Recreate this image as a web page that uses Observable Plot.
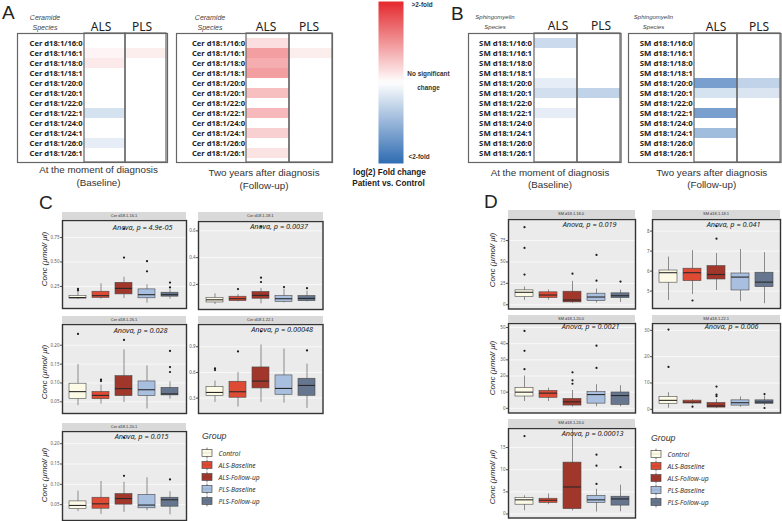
<!DOCTYPE html>
<html><head><meta charset="utf-8">
<script src="https://cdn.jsdelivr.net/npm/d3@7"></script>
<script src="https://cdn.jsdelivr.net/npm/@observablehq/plot@0.6"></script>
<style>
html,body{margin:0;padding:0;background:#fff;}
#fig{position:relative;width:782px;height:521px;overflow:hidden;font-family:"Liberation Sans",Arial,Helvetica,sans-serif;color:#222;background:#fff;}
.t{position:absolute;white-space:nowrap;line-height:1;}
.c{transform:translate(-50%,-50%);text-align:center;}
.strip{position:absolute;background:#d9d9d9;font-size:4px;color:#333;text-align:center;line-height:7px;overflow:hidden;}
.ylab{position:absolute;font-style:italic;font-size:8px;color:#222;transform:translate(-50%,-50%) rotate(-90deg);white-space:nowrap;line-height:1;}
#fig svg{position:absolute;overflow:visible;}
</style></head><body><div id="fig"></div>
<script>
// ---------- data ----------
const groups = ["Control","ALS-Baseline","ALS-Follow-up","PLS-Baseline","PLS-Follow-up"];
const groupColors = ["#fdfae6","#de4a34","#a1362a","#a8bfdf","#66768f"];

const cerSpecies = ["Cer d18:1/16:0","Cer d18:1/16:1","Cer d18:1/18:0","Cer d18:1/18:1","Cer d18:1/20:0","Cer d18:1/20:1","Cer d18:1/22:0","Cer d18:1/22:1","Cer d18:1/24:0","Cer d18:1/24:1","Cer d18:1/26:0","Cer d18:1/26:1"];
const smSpecies = ["SM d18:1/16:0","SM d18:1/16:1","SM d18:1/18:0","SM d18:1/18:1","SM d18:1/20:0","SM d18:1/20:1","SM d18:1/22:0","SM d18:1/22:1","SM d18:1/24:0","SM d18:1/24:1","SM d18:1/26:0","SM d18:1/26:1"];
const heatCols = ["ALS","PLS"];

// log2 fold change (scaled: 1 = >2-fold up, -1 = <2-fold down)
const cerBaseALS   = [0, 0.05, 0.10, 0, 0, 0, 0, -0.20, 0, 0, -0.12, 0];
const cerBasePLS   = [0, 0.08, 0, 0, 0, 0, 0, 0, 0, 0, 0, 0];
const cerFollowALS = [0.15, 0.45, 0.38, 0.45, 0, 0.30, 0, 0.33, 0, 0.22, 0, 0.13];
const cerFollowPLS = [0, 0.08, 0, 0, 0, 0, 0, 0, 0, 0, 0, 0];
const smBaseALS    = [-0.25, 0, 0, 0, -0.12, -0.22, 0, -0.12, 0, 0, 0, 0];
const smBasePLS    = [0, 0, 0, 0, 0, -0.30, 0, 0, 0, 0, 0, 0];
const smFollowALS  = [0, 0, 0, 0, -0.65, -0.20, 0, -0.65, 0, -0.45, 0, 0];
const smFollowPLS  = [0, 0, 0, 0, -0.30, -0.18, 0, 0, 0, 0, 0, 0];

// box summaries per group: [lower whisker, q1, median, q3, upper whisker]
const cer16_1 = [[0.116,0.126,0.137,0.153,0.20],[0.12,0.133,0.156,0.196,0.277],[0.126,0.169,0.23,0.287,0.344],[0.08,0.129,0.166,0.22,0.267],[0.12,0.146,0.166,0.186,0.216]];
const cer16_1Out = [[0,0.21],[0,0.225],[2,0.545],[2,0.84],[3,0.508],[3,0.404],[4,0.24],[4,0.29]];
const cer18_1 = [[0.05,0.065,0.085,0.10,0.13],[0.07,0.075,0.093,0.108,0.125],[0.055,0.093,0.118,0.143,0.17],[0.062,0.07,0.093,0.113,0.163],[0.07,0.075,0.095,0.113,0.15]];
const cer18_1Out = [[1,0.165],[2,0.218],[2,0.25],[2,0.63],[3,0.18],[4,0.172]];
const cer26_1 = [[0.04,0.057,0.077,0.098,0.149],[0.044,0.057,0.067,0.076,0.094],[0.048,0.065,0.085,0.118,0.188],[0.031,0.065,0.082,0.104,0.145],[0.057,0.067,0.071,0.087,0.103]];
const cer26_1Out = [[0,0.23],[1,0.105],[1,0.109],[2,0.214],[4,0.129],[4,0.142],[4,0.185]];
const cer22_1 = [[0.25,0.323,0.366,0.429,0.499],[0.195,0.304,0.374,0.491,0.60],[0.25,0.413,0.499,0.658,0.92],[0.242,0.339,0.413,0.565,0.873],[0.18,0.327,0.448,0.526,0.697]];
const cer22_1Out = [[0,0.627],[0,0.647],[1,0.845],[2,1.08],[4,0.857]];
const cer20_1 = [[0.033,0.039,0.048,0.058,0.083],[0.026,0.04,0.052,0.067,0.107],[0.031,0.05,0.065,0.076,0.105],[0.035,0.041,0.049,0.074,0.116],[0.025,0.045,0.062,0.067,0.082]];
const cer20_1Out = [[2,0.121],[2,0.215],[4,0.112]];

const sm18_0 = [[5.1,9.0,14.5,16.8,20.7],[5.5,7.8,11.3,14.5,17.2],[1.6,2.7,5.5,15.2,27.3],[2.0,4.3,9.0,12.9,18.4],[2.7,7.8,10.5,13.3,17.2]];
const sm18_0Out = [[0,35.2],[0,66.4],[0,90.6],[2,36.3],[3,28.1],[3,58.2],[4,27]];
const sm18_1 = [[4.53,5.42,5.92,6.03,6.7],[4.83,5.5,5.92,6.12,7.03],[5.03,5.58,5.83,6.25,6.88],[4.47,5.03,5.7,5.88,7.08],[4.37,5.2,5.45,5.92,6.92]];
const sm18_1Out = [[1,4.53],[2,7.62],[2,8.25]];
const sm20_0 = [[4.2,7.3,10,12.7,20],[4.2,6.5,9.4,10.8,12.5],[0.8,1.7,4,5.8,11],[1,2.9,8.5,10,14.6],[1,2.1,7.9,9.8,14]];
const sm20_0Out = [[0,24.2],[0,35.6],[0,47.9],[2,15.2],[2,17.3],[2,22.3],[3,25],[3,38.75]];
const sm22_1 = [[0.4,2.1,3.4,4.7,6.3],[1.8,2.2,2.75,3.3,3.7],[0.26,0.65,1.3,2.4,3.7],[0.8,1.4,2.5,3.4,4.7],[1.3,2.1,2.75,3.4,5.0]];
const sm22_1Out = [[0,16.1],[0,30.3],[1,1.0],[2,5.0],[2,5.6],[2,8.65],[4,5.8],[4,0.5]];
const sm24_0 = [[0.75,2.1,3.2,3.6,4.1],[2.1,2.5,3.1,3.45,4.5],[0.7,1.1,6.1,11.6,19.1],[0.45,2.5,3.2,4.1,5.6],[0.5,1.9,3.4,3.9,6.5]];
const sm24_0Out = [[0,17.6],[3,6.8],[3,10.9],[3,13.4],[4,10.6]];

const ticksC1 = [0.25,0.5,0.75], ticksC2 = [0.2,0.4,0.6], ticksC3 = [0.05,0.1,0.15,0.2], ticksC4 = [0.3,0.6,0.9], ticksC5 = [0.05,0.1,0.15,0.2];
const ticksD1 = [0,25,50,75], ticksD2 = [5,6,7,8], ticksD3 = [0,10,20,30,40,50], ticksD4 = [0,10,20,30], ticksD5 = [0,5,10,15];

// ---------- helpers ----------
const fig = document.getElementById("fig");
function place(el, left, top){ el.style.left = left + "px"; el.style.top = top + "px"; fig.appendChild(el); return el; }
function txt(s, x, y, style, center){
  const d = document.createElement("div");
  d.className = "t" + (center ? " c" : "");
  d.textContent = s;
  Object.assign(d.style, style || {});
  return place(d, x, y);
}
const heatColor = {type:"linear", domain:[-1,0,1], range:["#2f6cb3","#ffffff","#e4282d"]};

function heat(left, top, labelW, colW, species, als, pls, headDx, labelSize){
  const rows = species.flatMap((s,i)=>[{sp:s,col:"ALS",v:als[i]},{sp:s,col:"PLS",v:pls[i]}]);
  const mt = 21, rowH = 10.75;
  const p = Plot.plot({
    width: labelW + 2*colW + 1, height: mt + 12*rowH + 1,
    marginLeft: labelW, marginTop: mt, marginRight: 1, marginBottom: 1,
    x: {domain: heatCols, padding: 0, axis: null},
    y: {domain: species, padding: 0, axis: null},
    color: heatColor,
    style: {background: "transparent"},
    marks: [
      Plot.cell(rows, {x: "col", y: "sp", fill: "v"}),
      Plot.axisX({anchor: "top", tickSize: 0, tickPadding: 3, fontSize: 12, dx: headDx, color: "#222", label: null}),
      Plot.axisY({tickSize: 0, tickPadding: 1.5, fontSize: labelSize, fontWeight: "bold", color: "#222", label: null}),
      Plot.cell(heatCols, {x: d=>d, fill: "none", stroke: "#666", strokeWidth: 1.2}),
      Plot.frame({insetLeft: -labelW + 1, stroke: "#666", strokeWidth: 1.2})
    ]
  });
  place(p, left - 1, top - mt);
}

function boxPanel(cfg){
  const {stats, outs, left, top, w, h, domain, ticks, fmt, strip, stripTop, anova, dx, dy} = cfg;
  const rows = stats.map((s,i)=>({g:groups[i], lo:s[0], q1:s[1], med:s[2], q3:s[3], hi:s[4]}));
  const pts = outs.map(([i,v])=>({g:groups[i], v}));
  const ml = 14;
  const p = Plot.plot({
    width: w + ml + 1, height: h + 2,
    marginLeft: ml, marginRight: 1, marginTop: 1, marginBottom: 1,
    x: {domain: groups, padding: 0.25, axis: null},
    y: {domain, axis: null},
    color: {domain: groups, range: groupColors},
    style: {background: "transparent"},
    marks: [
      Plot.frame({fill: "#ebebeb"}),
      Plot.gridY(ticks, {stroke: "#fff", strokeOpacity: 1, strokeWidth: 0.7}),
      Plot.axisY(ticks, {tickSize: 2, tickPadding: 1, fontSize: 4.5, tickFormat: fmt, color: "#555", label: null}),
      Plot.ruleX(rows, {x: "g", y1: "lo", y2: "hi", stroke: "#4a4a4a", strokeWidth: 0.6}),
      Plot.barY(rows, {x: "g", y1: "q1", y2: "q3", fill: "g", stroke: "#4a4a4a", strokeWidth: 0.6}),
      Plot.tickY(rows, {x: "g", y: "med", stroke: "#2a2a2a", strokeWidth: 1.1}),
      Plot.text([anova], {text: d=>d, frameAnchor: "top-right", dx, dy, fontStyle: "italic", fontSize: 7.3, fill: "#222"}),
      Plot.dot(pts, {x: "g", y: "v", r: 1.1, fill: "#1a1a1a"}),
      Plot.frame({stroke: "#333", strokeWidth: 1.4})
    ]
  });
  place(p, left - ml, top - 1);
  const s = document.createElement("div");
  s.className = "strip";
  s.textContent = strip;
  s.style.width = w + "px"; s.style.height = (top - stripTop - 1) + "px";
  s.style.lineHeight = (top - stripTop - 1) + "px";
  place(s, left, stripTop);
}

function legend(left, top, titleY){
  txt("Group", left, titleY, {fontSize: "8.8px", fontStyle: "italic", color: "#333"});
  const bh = 12.9, H = 5*bh;
  const key = ()=>"k";
  const p = Plot.plot({
    width: 98, height: H, marginLeft: 0, marginRight: 88, marginTop: 0, marginBottom: 0,
    x: {domain: ["k"], padding: 0, axis: null},
    y: {domain: groups, padding: 0, axis: null},
    color: {domain: groups, range: groupColors},
    style: {background: "transparent"},
    marks: [
      Plot.cell(groups, {x: key, y: d=>d, fill: "#555", insetLeft: 4.6, insetRight: 4.6, insetTop: 0.6, insetBottom: 0.6}),
      Plot.cell(groups, {x: key, y: d=>d, fill: d=>d, stroke: "#4a4a4a", strokeWidth: 0.7, insetTop: 2.6, insetBottom: 2.6}),
      Plot.cell(groups, {x: key, y: d=>d, fill: "#2a2a2a", insetTop: bh/2 - 0.5, insetBottom: bh/2 - 0.5, insetLeft: 0.4, insetRight: 0.4}),
      Plot.text(groups, {x: key, y: d=>d, text: d=>d, dx: 11, textAnchor: "start", fontStyle: "italic", fontSize: 6.7, fill: "#333"})
    ]
  });
  place(p, left, top);
}

// ---------- panel letters ----------
const letter = {fontSize: "19px", color: "#222"};
txt("A", 2, 3, letter); txt("B", 451, 3.5, letter); txt("C", 39, 193, letter); txt("D", 484, 191.5, letter);

// ---------- heatmaps ----------
heat(16.7, 33, 67.6, 41.7, cerSpecies, cerBaseALS, cerBasePLS, -4, 7.6);
heat(175.7, 33, 71, 43, cerSpecies, cerFollowALS, cerFollowPLS, -2, 7.6);
heat(468.3, 33, 66, 43.8, smSpecies, smBaseALS, smBasePLS, 2, 7.8);
heat(628.3, 33, 66.7, 43.4, smSpecies, smFollowALS, smFollowPLS, 0, 7.8);

const cerStyle = {fontSize: "7px", fontStyle: "italic", color: "#444"};
const smStyle = {fontSize: "6px", fontStyle: "italic", color: "#444"};
txt("Ceramide", 45, 17.3, cerStyle, true); txt("Species", 45, 26.7, cerStyle, true);
txt("Ceramide", 210, 17.3, cerStyle, true); txt("Species", 210, 26.7, cerStyle, true);
txt("Sphingomyelin", 495, 17.3, smStyle, true); txt("Species", 495, 26.7, smStyle, true);
txt("Sphingomyelin", 653.5, 17.3, smStyle, true); txt("Species", 653.5, 26.7, smStyle, true);

const capStyle = {fontSize: "9.8px", color: "#333"};
txt("At the moment of diagnosis", 98.5, 170, capStyle, true); txt("(Baseline)", 98.5, 182.7, capStyle, true);
txt("Two years after diagnosis", 264, 173.3, capStyle, true); txt("(Follow-up)", 264, 186, capStyle, true);
txt("At the moment of diagnosis", 550, 172.7, capStyle, true); txt("(Baseline)", 550, 185, capStyle, true);
txt("Two years after diagnosis", 711.7, 172.7, capStyle, true); txt("(Follow-up)", 711.7, 185, capStyle, true);

// ---------- colour bar ----------
const cbar = Plot.plot({
  width: 25, height: 162, margin: 0,
  x: {domain: [0, 1], axis: null}, y: {domain: [-1, 1], axis: null},
  color: heatColor,
  style: {background: "transparent"},
  marks: [Plot.raster({x1: 0, x2: 1, y1: -1, y2: 1, width: 1, height: 40, fill: (x, y) => y, imageRendering: "auto"})]
});
place(cbar, 378, 1);
const cbStyle = {fontSize: "6.4px", fontWeight: "bold", color: "#333"};
txt(">2-fold", 411.5, 1.5, cbStyle);
txt("No significant", 428.5, 74, cbStyle, true); txt("change", 428.5, 88, cbStyle, true);
txt("<2-fold", 408.5, 154, cbStyle);
const fcStyle = {fontSize: "8.2px", fontWeight: "bold", color: "#222"};
txt("log(2) Fold change", 389.5, 173.3, fcStyle, true);
txt("Patient vs. Control", 388.5, 183.5, fcStyle, true);

// ---------- box plots C ----------
const f2 = d3.format(".2f"), f1 = d3.format(".1f"), fi = d3.format("d");
boxPanel({stats: cer16_1, outs: cer16_1Out, left: 62, top: 220, w: 124, h: 88, domain: [0.025, 0.923], ticks: ticksC1, fmt: f2, strip: "Cer d18.1.16.1", stripTop: 212, anova: "Anova, p = 4.9e-05", dx: -14, dy: 4});
boxPanel({stats: cer18_1, outs: cer18_1Out, left: 198, top: 220.5, w: 124.5, h: 88, domain: [0.0125, 0.67], ticks: ticksC2, fmt: f1, strip: "Cer d18.1.18.1", stripTop: 212, anova: "Anova, p = 0.0037", dx: -15, dy: 2});
boxPanel({stats: cer26_1, outs: cer26_1Out, left: 62, top: 324, w: 124, h: 89, domain: [0.019, 0.255], ticks: ticksC3, fmt: f2, strip: "Cer d18.1.26.1", stripTop: 316, anova: "Anova, p = 0.028", dx: -19, dy: 3});
boxPanel({stats: cer22_1, outs: cer22_1Out, left: 198, top: 324, w: 124.5, h: 89, domain: [0.12, 1.16], ticks: ticksC4, fmt: f1, strip: "Cer d18.1.22.1", stripTop: 316, anova: "Anova, p = 0.00048", dx: -10, dy: 2});
boxPanel({stats: cer20_1, outs: cer20_1Out, left: 62, top: 431, w: 124, h: 89, domain: [0.011, 0.23], ticks: ticksC5, fmt: f2, strip: "Cer d18.1.20.1", stripTop: 423, anova: "Anova, p = 0.015", dx: -18, dy: 2});

// ---------- box plots D ----------
boxPanel({stats: sm18_0, outs: sm18_0Out, left: 507.5, top: 218.5, w: 127, h: 89.5, domain: [-5, 99.6], ticks: ticksD1, fmt: fi, strip: "SM d18.1.18.0", stripTop: 210, anova: "Anova, p = 0.019", dx: -19, dy: 2});
boxPanel({stats: sm18_1, outs: sm18_1Out, left: 652, top: 218.5, w: 128, h: 89, domain: [4.13, 8.58], ticks: ticksD2, fmt: fi, strip: "SM d18.1.18.1", stripTop: 210, anova: "Anova, p = 0.041", dx: -20, dy: 2});
boxPanel({stats: sm20_0, outs: sm20_0Out, left: 507.5, top: 323, w: 127, h: 89.5, domain: [-2.9, 52.5], ticks: ticksD3, fmt: fi, strip: "SM d18.1.20.0", stripTop: 315, anova: "Anova, p = 0.0021", dx: -16, dy: 0});
boxPanel({stats: sm22_1, outs: sm22_1Out, left: 652, top: 323, w: 128, h: 89.5, domain: [-1.4, 32.6], ticks: ticksD4, fmt: fi, strip: "SM d18.1.22.1", stripTop: 315, anova: "Anova, p = 0.006", dx: -22, dy: 0});
boxPanel({stats: sm24_0, outs: sm24_0Out, left: 507.5, top: 427.5, w: 127, h: 89.5, domain: [-0.9, 19.3], ticks: ticksD5, fmt: fi, strip: "SM d18.1.24.0", stripTop: 419, anova: "Anova, p = 0.00013", dx: -12, dy: 2});

// ---------- y labels ----------
const yl = "Conc (µmol/ µl)";
[[45,259],[45,372],[45,475],[493,260],[493,368],[493,477]].forEach(([x,y])=>{
  const d = document.createElement("div"); d.className = "ylab"; d.textContent = yl; place(d, x, y);
});

// ---------- legends ----------
legend(202, 445.2, 432);
legend(651, 446.2, 434);
</script></body></html>
